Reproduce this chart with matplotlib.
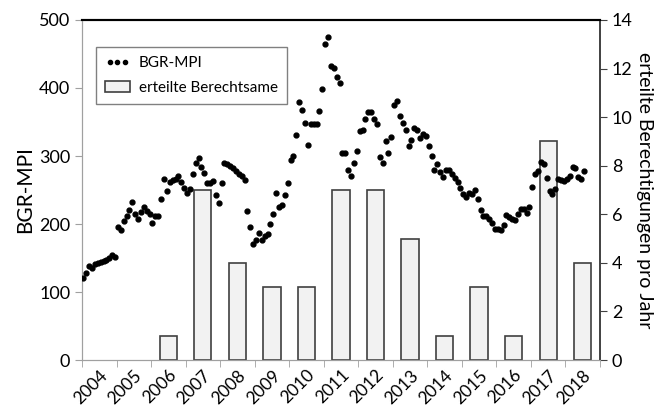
import numpy as np
import matplotlib
matplotlib.use("Agg")
import matplotlib.pyplot as plt
from matplotlib.lines import Line2D
from matplotlib.patches import Patch

plt.rcParams['font.family'] = ['Lato', 'DejaVu Sans']

jahre = ['2004', '2005', '2006', '2007', '2008', '2009', '2010', '2011',
         '2012', '2013', '2014', '2015', '2016', '2017', '2018']
berechtsame = [0, 0, 1, 7, 4, 3, 3, 7, 7, 5, 1, 3, 1, 9, 4]

# BGR-MPI, monatlich ab Jan 2004
mpi = [
    121, 128, 138, 135, 141, 143, 144, 146, 147, 150, 154, 151,   # 2004
    196, 191, 204, 212, 220, 232, 214, 208, 218, 225, 219, 214,   # 2005
    202, 212, 212, 237, 266, 249, 262, 265, 266, 271, 262, 253,   # 2006
    246, 251, 273, 290, 297, 284, 275, 260, 260, 263, 243, 231,   # 2007
    261, 290, 288, 285, 282, 278, 273, 270, 265, 219, 196, 171,   # 2008
    176, 187, 176, 182, 185, 200, 215, 246, 225, 228, 243, 260,   # 2009
    294, 300, 331, 380, 368, 348, 316, 347, 347, 347, 366, 398,   # 2010
    465, 475, 433, 429, 416, 407, 304, 304, 279, 271, 290, 307,   # 2011
    337, 338, 355, 364, 364, 354, 347, 298, 289, 322, 305, 328,   # 2012
    375, 381, 359, 349, 338, 314, 324, 341, 338, 326, 333, 329,   # 2013
    315, 300, 279, 288, 276, 269, 279, 279, 274, 268, 262, 253,   # 2014
    244, 240, 246, 244, 250, 237, 221, 212, 212, 208, 201, 193,   # 2015
    193, 191, 198, 213, 210, 208, 206, 215, 222, 222, 216, 225,   # 2016
    254, 273, 278, 291, 288, 268, 248, 244, 251, 266, 265, 263,   # 2017
    266, 271, 284, 282, 269, 266, 278,                             # 2018
]

fig = plt.figure(figsize=(6.59, 4.08), dpi=100)
ax = fig.add_axes([0.1244, 0.1176, 0.786, 0.8334])
ax2 = ax.twinx()

x = np.arange(len(jahre))
werte = np.array(berechtsame)
nz = werte > 0
ax.bar(x[nz], werte[nz], width=0.5, color='#f2f2f2', edgecolor='#404040',
       linewidth=1.2, zorder=2)
ax.set_xlim(-0.5, len(jahre) - 0.5)
ax.set_ylim(0, 14)
ax.set_yticks(range(0, 15, 2))
ax.yaxis.tick_right()
ax.yaxis.set_label_position('right')
ax.set_ylabel('erteilte Berechtigungen pro Jahr', fontsize=14, rotation=270,
              labelpad=15)

ax.set_xticks(x)
ax.set_xticklabels(jahre, rotation=45, ha='right', rotation_mode='anchor',
                   fontsize=12.5)
ax.set_xticks(np.arange(-0.5, len(jahre)), minor=True)
ax.tick_params(axis='x', which='major', length=0, pad=5)
ax.tick_params(axis='x', which='minor', length=5, color='#a0a0a0')
ax.tick_params(axis='y', labelsize=13, length=5, color='#404040')

ax2.yaxis.tick_left()
ax2.yaxis.set_label_position('left')
mx = np.arange(len(mpi))
pos = -0.5 + (mx + 0.5) / 12
ax2.plot(pos, mpi, 'o', color='black', ms=3.5, zorder=3)
ax2.set_ylim(0, 500)
ax2.set_yticks(range(0, 501, 100))
ax2.set_ylabel('BGR-MPI', fontsize=15, labelpad=3)
ax2.tick_params(axis='y', labelsize=13, length=5, color='#a0a0a0')

for a in (ax, ax2):
    a.spines['top'].set_color('black')
    a.spines['top'].set_linewidth(1.5)
    a.spines['left'].set_color('#a0a0a0')
    a.spines['bottom'].set_color('#a0a0a0')
    a.spines['right'].set_color('#404040')
    a.spines['right'].set_linewidth(1.2)

handles = [Line2D([], [], linestyle='none', marker='o', color='black', ms=3),
           Patch(facecolor='#f2f2f2', edgecolor='#404040', linewidth=1.2)]
leg = ax2.legend(handles, ['BGR-MPI', 'erteilte Berechtsame'], loc='upper left',
                 bbox_to_anchor=(0.027, 0.92), fontsize=11, fancybox=False,
                 framealpha=1, edgecolor='#808080', numpoints=3,
                 handlelength=1.6, handletextpad=0.6, borderpad=0.6,
                 labelspacing=0.7, borderaxespad=0)
leg.get_frame().set_linewidth(1.0)

fig.savefig('out.png', dpi=100)
